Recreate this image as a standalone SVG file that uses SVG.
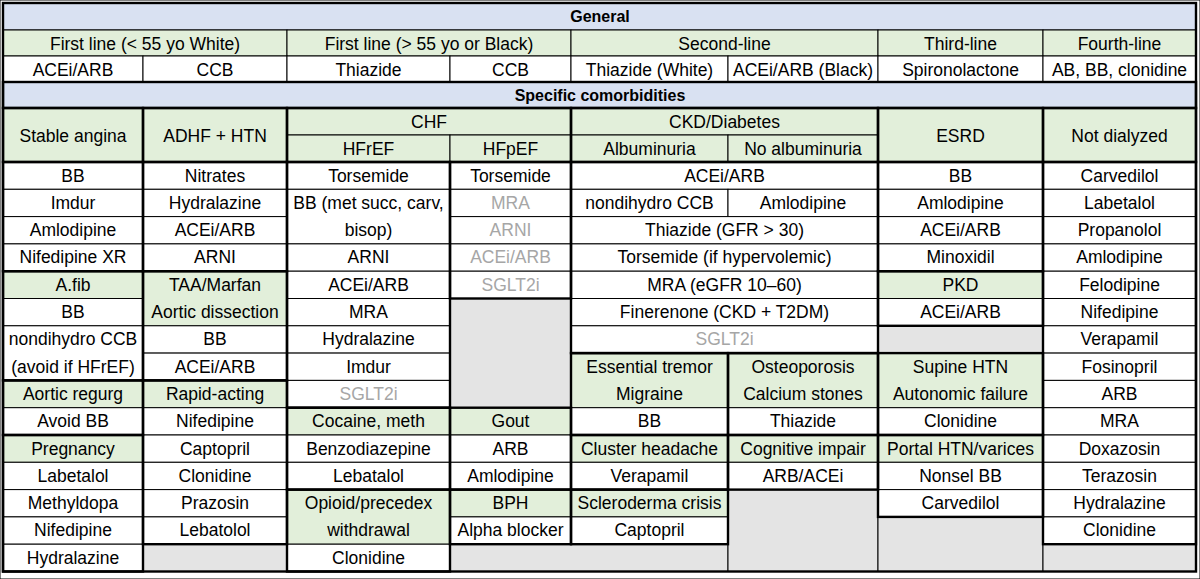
<svg xmlns="http://www.w3.org/2000/svg" width="1200" height="579" viewBox="0 0 1200 579">
<style>
rect{stroke:#000;stroke-width:1}
.w{fill:#fff}.g{fill:#e2efda}.b{fill:#d9e1f2}.x{fill:#e4e4e4}
.k{fill:none;stroke-width:2.4}
text{font-family:"Liberation Sans",Arial,sans-serif;font-size:17.5px;text-anchor:middle;fill:#000}
.h{font-weight:bold;font-size:16px}
.gt{fill:#a6a6a6}
</style>
<rect width="1200" height="579" fill="#fff" stroke="none"/>
<g id="general">
<rect class="b" x="3" y="3" width="1193" height="27"/><text class="h" x="600" y="22">General</text>
<rect class="g" x="3" y="30" width="284" height="26"/><text x="145" y="49.5">First line (&lt; 55 yo White)</text>
<rect class="g" x="287" y="30" width="284" height="26"/><text x="429" y="49.5">First line (&gt; 55 yo or Black)</text>
<rect class="g" x="571" y="30" width="307" height="26"/><text x="724.5" y="49.5">Second-line</text>
<rect class="g" x="878" y="30" width="165" height="26"/><text x="960.5" y="49.5">Third-line</text>
<rect class="g" x="1043" y="30" width="153" height="26"/><text x="1119.5" y="49.5">Fourth-line</text>
<rect class="w" x="3" y="56" width="140" height="26"/><text x="73" y="75.5">ACEi/ARB</text>
<rect class="w" x="143" y="56" width="144" height="26"/><text x="215" y="75.5">CCB</text>
<rect class="w" x="287" y="56" width="163" height="26"/><text x="368.5" y="75.5">Thiazide</text>
<rect class="w" x="450" y="56" width="121" height="26"/><text x="510.5" y="75.5">CCB</text>
<rect class="w" x="571" y="56" width="157" height="26"/><text x="649.5" y="75.5">Thiazide (White)</text>
<rect class="w" x="728" y="56" width="150" height="26"/><text x="803" y="75.5">ACEi/ARB (Black)</text>
<rect class="w" x="878" y="56" width="165" height="26"/><text x="960.5" y="75.5">Spironolactone</text>
<rect class="w" x="1043" y="56" width="153" height="26"/><text x="1119.5" y="75.5">AB, BB, clonidine</text>
<rect class="b" x="3" y="82" width="1193" height="26"/><text class="h" x="600" y="101">Specific comorbidities</text>
</g>
<g id="colA">
<rect class="g" x="3" y="108" width="140" height="54"/><text x="73" y="141.5">Stable angina</text>
<rect class="w" x="3" y="162" width="140" height="27.3"/><text x="73" y="181.5">BB</text>
<rect class="w" x="3" y="189.3" width="140" height="27.3"/><text x="73" y="208.8">Imdur</text>
<rect class="w" x="3" y="216.6" width="140" height="27.3"/><text x="73" y="236.1">Amlodipine</text>
<rect class="w" x="3" y="243.9" width="140" height="27.3"/><text x="73" y="263.4">Nifedipine XR</text>
<rect class="g" x="3" y="271.2" width="140" height="27.3"/><text x="73" y="290.7">A.fib</text>
<rect class="w" x="3" y="298.5" width="140" height="27.3"/><text x="73" y="318">BB</text>
<rect class="w" x="3" y="325.8" width="140" height="54.6"/><text x="73" y="345.3">nondihydro CCB</text><text x="73" y="372.6">(avoid if HFrEF)</text>
<rect class="g" x="3" y="380.4" width="140" height="27.3"/><text x="73" y="399.9">Aortic regurg</text>
<rect class="w" x="3" y="407.7" width="140" height="27.3"/><text x="73" y="427.2">Avoid BB</text>
<rect class="g" x="3" y="435" width="140" height="27.3"/><text x="73" y="454.5">Pregnancy</text>
<rect class="w" x="3" y="462.3" width="140" height="27.3"/><text x="73" y="481.8">Labetalol</text>
<rect class="w" x="3" y="489.6" width="140" height="27.3"/><text x="73" y="509.1">Methyldopa</text>
<rect class="w" x="3" y="516.9" width="140" height="27.3"/><text x="73" y="536.4">Nifedipine</text>
<rect class="w" x="3" y="544.2" width="140" height="27.3"/><text x="73" y="563.7">Hydralazine</text>
</g>
<g id="colB">
<rect class="g" x="143" y="108" width="144" height="54"/><text x="215" y="141.5">ADHF + HTN</text>
<rect class="w" x="143" y="162" width="144" height="27.3"/><text x="215" y="181.5">Nitrates</text>
<rect class="w" x="143" y="189.3" width="144" height="27.3"/><text x="215" y="208.8">Hydralazine</text>
<rect class="w" x="143" y="216.6" width="144" height="27.3"/><text x="215" y="236.1">ACEi/ARB</text>
<rect class="w" x="143" y="243.9" width="144" height="27.3"/><text x="215" y="263.4">ARNI</text>
<rect class="g" x="143" y="271.2" width="144" height="54.6"/><text x="215" y="290.7">TAA/Marfan</text><text x="215" y="318">Aortic dissection</text>
<rect class="w" x="143" y="325.8" width="144" height="27.3"/><text x="215" y="345.3">BB</text>
<rect class="w" x="143" y="353.1" width="144" height="27.3"/><text x="215" y="372.6">ACEi/ARB</text>
<rect class="g" x="143" y="380.4" width="144" height="27.3"/><text x="215" y="399.9">Rapid-acting</text>
<rect class="w" x="143" y="407.7" width="144" height="27.3"/><text x="215" y="427.2">Nifedipine</text>
<rect class="w" x="143" y="435" width="144" height="27.3"/><text x="215" y="454.5">Captopril</text>
<rect class="w" x="143" y="462.3" width="144" height="27.3"/><text x="215" y="481.8">Clonidine</text>
<rect class="w" x="143" y="489.6" width="144" height="27.3"/><text x="215" y="509.1">Prazosin</text>
<rect class="w" x="143" y="516.9" width="144" height="27.3"/><text x="215" y="536.4">Lebatolol</text>
<rect class="x" x="143" y="544.2" width="144" height="27.3"/>
</g>
<g id="colCD">
<rect class="g" x="287" y="108" width="284" height="27"/><text x="429" y="127.5">CHF</text>
<rect class="g" x="287" y="135" width="163" height="27"/><text x="368.5" y="154.5">HFrEF</text>
<rect class="g" x="450" y="135" width="121" height="27"/><text x="510.5" y="154.5">HFpEF</text>
<rect class="w" x="287" y="162" width="163" height="27.3"/><text x="368.5" y="181.5">Torsemide</text>
<rect class="w" x="287" y="189.3" width="163" height="54.6"/><text x="368.5" y="208.8">BB (met succ, carv,</text><text x="368.5" y="236.1">bisop)</text>
<rect class="w" x="287" y="243.9" width="163" height="27.3"/><text x="368.5" y="263.4">ARNI</text>
<rect class="w" x="287" y="271.2" width="163" height="27.3"/><text x="368.5" y="290.7">ACEi/ARB</text>
<rect class="w" x="287" y="298.5" width="163" height="27.3"/><text x="368.5" y="318">MRA</text>
<rect class="w" x="287" y="325.8" width="163" height="27.3"/><text x="368.5" y="345.3">Hydralazine</text>
<rect class="w" x="287" y="353.1" width="163" height="27.3"/><text x="368.5" y="372.6">Imdur</text>
<rect class="w" x="287" y="380.4" width="163" height="27.3"/><text class="gt" x="368.5" y="399.9">SGLT2i</text>
<rect class="g" x="287" y="407.7" width="163" height="27.3"/><text x="368.5" y="427.2">Cocaine, meth</text>
<rect class="w" x="287" y="435" width="163" height="27.3"/><text x="368.5" y="454.5">Benzodiazepine</text>
<rect class="w" x="287" y="462.3" width="163" height="27.3"/><text x="368.5" y="481.8">Lebatalol</text>
<rect class="g" x="287" y="489.6" width="163" height="54.6"/><text x="368.5" y="509.1">Opioid/precedex</text><text x="368.5" y="536.4">withdrawal</text>
<rect class="w" x="287" y="544.2" width="163" height="27.3"/><text x="368.5" y="563.7">Clonidine</text>
<rect class="w" x="450" y="162" width="121" height="27.3"/><text x="510.5" y="181.5">Torsemide</text>
<rect class="w" x="450" y="189.3" width="121" height="27.3"/><text class="gt" x="510.5" y="208.8">MRA</text>
<rect class="w" x="450" y="216.6" width="121" height="27.3"/><text class="gt" x="510.5" y="236.1">ARNI</text>
<rect class="w" x="450" y="243.9" width="121" height="27.3"/><text class="gt" x="510.5" y="263.4">ACEi/ARB</text>
<rect class="w" x="450" y="271.2" width="121" height="27.3"/><text class="gt" x="510.5" y="290.7">SGLT2i</text>
<rect class="x" x="450" y="298.5" width="121" height="109.2"/>
<rect class="g" x="450" y="407.7" width="121" height="27.3"/><text x="510.5" y="427.2">Gout</text>
<rect class="w" x="450" y="435" width="121" height="27.3"/><text x="510.5" y="454.5">ARB</text>
<rect class="w" x="450" y="462.3" width="121" height="27.3"/><text x="510.5" y="481.8">Amlodipine</text>
<rect class="g" x="450" y="489.6" width="121" height="27.3"/><text x="510.5" y="509.1">BPH</text>
<rect class="w" x="450" y="516.9" width="121" height="27.3"/><text x="510.5" y="536.4">Alpha blocker</text>
<rect class="x" x="450" y="544.2" width="278" height="27.3"/>
</g>
<g id="colEF">
<rect class="g" x="571" y="108" width="307" height="27"/><text x="724.5" y="127.5">CKD/Diabetes</text>
<rect class="g" x="571" y="135" width="157" height="27"/><text x="649.5" y="154.5">Albuminuria</text>
<rect class="g" x="728" y="135" width="150" height="27"/><text x="803" y="154.5">No albuminuria</text>
<rect class="w" x="571" y="162" width="307" height="27.3"/><text x="724.5" y="181.5">ACEi/ARB</text>
<rect class="w" x="571" y="189.3" width="157" height="27.3"/><text x="649.5" y="208.8">nondihydro CCB</text>
<rect class="w" x="728" y="189.3" width="150" height="27.3"/><text x="803" y="208.8">Amlodipine</text>
<rect class="w" x="571" y="216.6" width="307" height="27.3"/><text x="724.5" y="236.1">Thiazide (GFR &gt; 30)</text>
<rect class="w" x="571" y="243.9" width="307" height="27.3"/><text x="724.5" y="263.4">Torsemide (if hypervolemic)</text>
<rect class="w" x="571" y="271.2" width="307" height="27.3"/><text x="724.5" y="290.7">MRA (eGFR 10–60)</text>
<rect class="w" x="571" y="298.5" width="307" height="27.3"/><text x="724.5" y="318">Finerenone (CKD + T2DM)</text>
<rect class="w" x="571" y="325.8" width="307" height="27.3"/><text class="gt" x="724.5" y="345.3">SGLT2i</text>
<rect class="g" x="571" y="353.1" width="157" height="54.6"/><text x="649.5" y="372.6">Essential tremor</text><text x="649.5" y="399.9">Migraine</text>
<rect class="w" x="571" y="407.7" width="157" height="27.3"/><text x="649.5" y="427.2">BB</text>
<rect class="g" x="571" y="435" width="157" height="27.3"/><text x="649.5" y="454.5">Cluster headache</text>
<rect class="w" x="571" y="462.3" width="157" height="27.3"/><text x="649.5" y="481.8">Verapamil</text>
<rect class="g" x="571" y="489.6" width="157" height="27.3"/><text x="649.5" y="509.1">Scleroderma crisis</text>
<rect class="w" x="571" y="516.9" width="157" height="27.3"/><text x="649.5" y="536.4">Captopril</text>
<rect class="g" x="728" y="353.1" width="150" height="54.6"/><text x="803" y="372.6">Osteoporosis</text><text x="803" y="399.9">Calcium stones</text>
<rect class="w" x="728" y="407.7" width="150" height="27.3"/><text x="803" y="427.2">Thiazide</text>
<rect class="g" x="728" y="435" width="150" height="27.3"/><text x="803" y="454.5">Cognitive impair</text>
<rect class="w" x="728" y="462.3" width="150" height="27.3"/><text x="803" y="481.8">ARB/ACEi</text>
<rect class="x" x="728" y="489.6" width="150" height="81.9"/>
</g>
<g id="colG">
<rect class="g" x="878" y="108" width="165" height="54"/><text x="960.5" y="141.5">ESRD</text>
<rect class="w" x="878" y="162" width="165" height="27.3"/><text x="960.5" y="181.5">BB</text>
<rect class="w" x="878" y="189.3" width="165" height="27.3"/><text x="960.5" y="208.8">Amlodipine</text>
<rect class="w" x="878" y="216.6" width="165" height="27.3"/><text x="960.5" y="236.1">ACEi/ARB</text>
<rect class="w" x="878" y="243.9" width="165" height="27.3"/><text x="960.5" y="263.4">Minoxidil</text>
<rect class="g" x="878" y="271.2" width="165" height="27.3"/><text x="960.5" y="290.7">PKD</text>
<rect class="w" x="878" y="298.5" width="165" height="27.3"/><text x="960.5" y="318">ACEi/ARB</text>
<rect class="x" x="878" y="325.8" width="165" height="27.3"/>
<rect class="g" x="878" y="353.1" width="165" height="54.6"/><text x="960.5" y="372.6">Supine HTN</text><text x="960.5" y="399.9">Autonomic failure</text>
<rect class="w" x="878" y="407.7" width="165" height="27.3"/><text x="960.5" y="427.2">Clonidine</text>
<rect class="g" x="878" y="435" width="165" height="27.3"/><text x="960.5" y="454.5">Portal HTN/varices</text>
<rect class="w" x="878" y="462.3" width="165" height="27.3"/><text x="960.5" y="481.8">Nonsel BB</text>
<rect class="w" x="878" y="489.6" width="165" height="27.3"/><text x="960.5" y="509.1">Carvedilol</text>
<rect class="x" x="878" y="516.9" width="165" height="54.6"/>
</g>
<g id="colH">
<rect class="g" x="1043" y="108" width="153" height="54"/><text x="1119.5" y="141.5">Not dialyzed</text>
<rect class="w" x="1043" y="162" width="153" height="27.3"/><text x="1119.5" y="181.5">Carvedilol</text>
<rect class="w" x="1043" y="189.3" width="153" height="27.3"/><text x="1119.5" y="208.8">Labetalol</text>
<rect class="w" x="1043" y="216.6" width="153" height="27.3"/><text x="1119.5" y="236.1">Propanolol</text>
<rect class="w" x="1043" y="243.9" width="153" height="27.3"/><text x="1119.5" y="263.4">Amlodipine</text>
<rect class="w" x="1043" y="271.2" width="153" height="27.3"/><text x="1119.5" y="290.7">Felodipine</text>
<rect class="w" x="1043" y="298.5" width="153" height="27.3"/><text x="1119.5" y="318">Nifedipine</text>
<rect class="w" x="1043" y="325.8" width="153" height="27.3"/><text x="1119.5" y="345.3">Verapamil</text>
<rect class="w" x="1043" y="353.1" width="153" height="27.3"/><text x="1119.5" y="372.6">Fosinopril</text>
<rect class="w" x="1043" y="380.4" width="153" height="27.3"/><text x="1119.5" y="399.9">ARB</text>
<rect class="w" x="1043" y="407.7" width="153" height="27.3"/><text x="1119.5" y="427.2">MRA</text>
<rect class="w" x="1043" y="435" width="153" height="27.3"/><text x="1119.5" y="454.5">Doxazosin</text>
<rect class="w" x="1043" y="462.3" width="153" height="27.3"/><text x="1119.5" y="481.8">Terazosin</text>
<rect class="w" x="1043" y="489.6" width="153" height="27.3"/><text x="1119.5" y="509.1">Hydralazine</text>
<rect class="w" x="1043" y="516.9" width="153" height="27.3"/><text x="1119.5" y="536.4">Clonidine</text>
<rect class="x" x="1043" y="544.2" width="153" height="27.3"/>
</g>
<g id="borders">
<rect class="k" x="3" y="3" width="1193" height="568.5"/>
<rect class="k" x="3" y="82" width="1193" height="26"/>
<rect class="k" x="3" y="108" width="140" height="54"/><rect class="k" x="3" y="162" width="140" height="109.2"/><rect class="k" x="3" y="271.2" width="140" height="109.2"/><rect class="k" x="3" y="380.4" width="140" height="54.6"/><rect class="k" x="3" y="435" width="140" height="136.5"/>
<rect class="k" x="143" y="108" width="144" height="54"/><rect class="k" x="143" y="162" width="144" height="109.2"/><rect class="k" x="143" y="271.2" width="144" height="109.2"/><rect class="k" x="143" y="380.4" width="144" height="163.8"/>
<rect class="k" x="287" y="108" width="284" height="54"/><rect class="k" x="287" y="162" width="163" height="245.7"/><rect class="k" x="450" y="162" width="121" height="136.5"/><rect class="k" x="287" y="407.7" width="163" height="81.9"/><rect class="k" x="287" y="489.6" width="163" height="81.9"/><rect class="k" x="450" y="407.7" width="121" height="81.9"/><rect class="k" x="450" y="489.6" width="121" height="54.6"/>
<rect class="k" x="571" y="108" width="307" height="54"/><rect class="k" x="571" y="162" width="307" height="191.1"/><rect class="k" x="571" y="353.1" width="157" height="81.9"/><rect class="k" x="571" y="435" width="157" height="54.6"/><rect class="k" x="571" y="489.6" width="157" height="54.6"/><rect class="k" x="728" y="353.1" width="150" height="81.9"/><rect class="k" x="728" y="435" width="150" height="54.6"/>
<rect class="k" x="878" y="108" width="165" height="54"/><rect class="k" x="878" y="162" width="165" height="109.2"/><rect class="k" x="878" y="271.2" width="165" height="54.6"/><rect class="k" x="878" y="353.1" width="165" height="81.9"/><rect class="k" x="878" y="435" width="165" height="81.9"/>
<rect class="k" x="1043" y="108" width="153" height="54"/><rect class="k" x="1043" y="162" width="153" height="382.2"/>
</g>
</svg>
